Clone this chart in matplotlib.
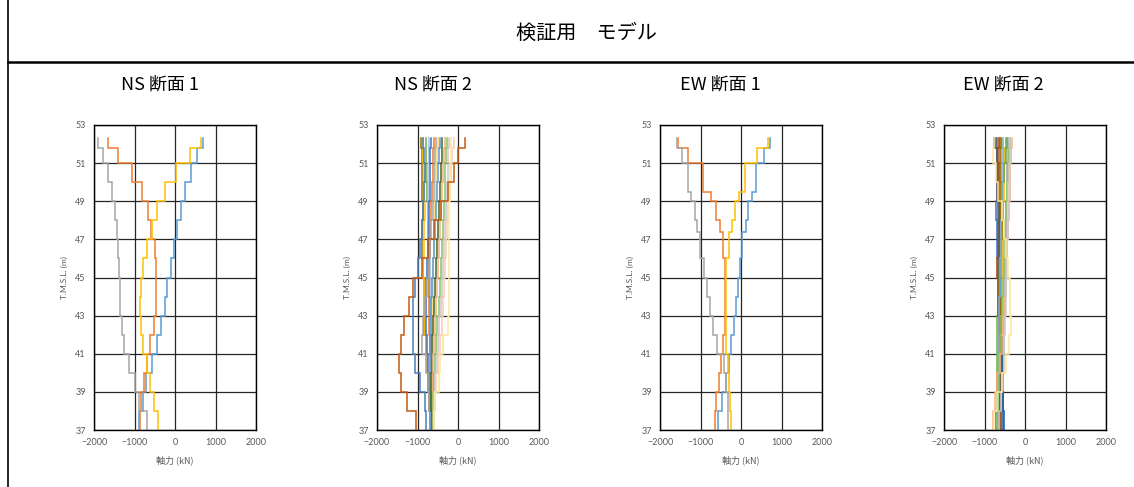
import numpy as np
import matplotlib
matplotlib.use("Agg")
import matplotlib.pyplot as plt

plt.rcParams['font.family'] = ['Noto Sans CJK JP', 'DejaVu Sans']

# ---- data ----
title = "検証用　モデル"
panel_titles = ["NS 断面 1", "NS 断面 2", "EW 断面 1", "EW 断面 2"]
xlabel = "軸力 (kN)"
ylabel = "T.M.S.L. (m)"
xticks = [-2000, -1000, 0, 1000, 2000]
yticks = [37, 39, 41, 43, 45, 47, 49, 51, 53]

# level breaks (top to bottom) of the step profiles
levels = [52.3, 51.8, 51, 50, 49, 48, 47, 46, 45, 44, 43, 42, 41, 40, 39, 38, 37]
levels_ew1 = [52.3, 51.8, 51, 49.5, 49, 48, 47.4, 46, 45, 44, 43, 42, 41, 40, 39, 38, 37]

ns1 = [
    ('#5B9BD5', [686, 537, 397, 248, 140, 41, -25, -107, -190, -248, -347, -455, -579, -719, -802, -901]),
    ('#ED7D31', [-1645, -1405, -1074, -826, -678, -595, -488, -471, -471, -471, -529, -620, -702, -760, -851, -868]),
    ('#A5A5A5', [-1893, -1777, -1653, -1554, -1471, -1430, -1405, -1380, -1364, -1364, -1314, -1264, -1132, -1000, -900, -700]),
    ('#FFC000', [645, 372, 17, -248, -455, -579, -702, -793, -851, -868, -851, -802, -702, -620, -512, -430]),
]

ns2 = [
    ('#997300', [-917, -900, -885, -880, -875, -880, -890, -870, -850, -845, -830, -800, -770, -740, -710, -700]),
    ('#FFC000', [-868, -855, -845, -830, -820, -835, -850, -860, -850, -835, -815, -790, -760, -720, -690, -670]),
    ('#70AD47', [-802, -790, -780, -765, -750, -740, -730, -720, -710, -700, -690, -680, -665, -640, -620, -610]),
    ('#9DC3E6', [-711, -720, -735, -745, -730, -710, -695, -685, -675, -665, -655, -645, -635, -625, -615, -600]),
    ('#4472C4', [-669, -680, -690, -700, -710, -725, -745, -765, -780, -790, -780, -760, -740, -720, -700, -680]),
    ('#ED7D31', [-603, -615, -625, -640, -660, -680, -700, -715, -725, -720, -705, -685, -665, -645, -625, -605]),
    ('#A5A5A5', [-554, -565, -580, -600, -625, -655, -690, -725, -765, -820, -860, -880, -800, -745, -705, -690]),
    ('#FFD966', [-504, -520, -540, -555, -570, -585, -595, -605, -615, -625, -635, -645, -650, -660, -650, -640]),
    ('#5B9BD5', [-455, -470, -490, -510, -535, -560, -590, -615, -640, -655, -670, -680, -690, -680, -670, -660]),
    ('#43682B', [-388, -400, -420, -440, -465, -490, -520, -550, -575, -600, -620, -635, -650, -660, -655, -650]),
    ('#F4B183', [-331, -345, -365, -390, -410, -435, -460, -485, -510, -535, -560, -585, -610, -625, -620, -615]),
    ('#8CC168', [-273, -290, -310, -330, -355, -380, -405, -430, -455, -480, -510, -540, -570, -600, -610, -620]),
    ('#C9C9C9', [-215, -235, -255, -280, -300, -325, -350, -375, -400, -430, -460, -490, -530, -570, -590, -600]),
    ('#F8CBAD', [-107, -150, -185, -215, -245, -270, -295, -320, -345, -370, -400, -440, -490, -540, -580, -590]),
    ('#FFE699', [-165, -175, -190, -200, -210, -220, -225, -230, -230, -220, -250, -360, -440, -470, -560, -600]),
    ('#4A7EBB', [-860, -840, -820, -840, -870, -900, -940, -980, -1060, -1100, -1115, -1100, -1060, -950, -810, -790]),
    ('#C55A11', [180, 0, -100, -250, -420, -600, -750, -900, -1100, -1210, -1330, -1405, -1445, -1405, -1265, -1030]),
]

ew1 = [
    ('#5B9BD5', [708, 560, 379, 272, 173, 115, 25, -33, -74, -115, -173, -239, -305, -379, -461, -568]),
    ('#ED7D31', [-1556, -1309, -938, -733, -609, -527, -444, -403, -387, -387, -403, -444, -486, -543, -609, -642]),
    ('#A5A5A5', [-1572, -1449, -1309, -1226, -1144, -1086, -1021, -922, -840, -774, -691, -593, -420, -380, -330, -310]),
    ('#FFC000', [667, 403, 107, -58, -156, -222, -305, -362, -379, -379, -379, -370, -321, -305, -280, -239]),
]

ew2 = [
    ('#5B9BD5', [-480, -500, -520, -540, -555, -565, -575, -580, -585, -590, -580, -570, -560, -550, -540, -530]),
    ('#ED7D31', [-620, -600, -590, -600, -610, -620, -630, -640, -650, -640, -630, -620, -640, -660, -680, -700]),
    ('#A5A5A5', [-420, -430, -440, -450, -460, -470, -480, -490, -500, -510, -520, -530, -540, -560, -580, -600]),
    ('#FFC000', [-560, -530, -520, -530, -560, -570, -560, -550, -540, -550, -560, -570, -590, -610, -620, -640]),
    ('#4472C4', [-700, -680, -670, -690, -720, -700, -680, -660, -650, -640, -620, -600, -580, -560, -540, -520]),
    ('#70AD47', [-440, -470, -510, -560, -590, -620, -640, -650, -660, -670, -680, -690, -700, -690, -680, -670]),
    ('#255E91', [-760, -700, -680, -660, -650, -640, -630, -620, -610, -600, -590, -580, -570, -560, -550, -540]),
    ('#9E480E', [-650, -660, -640, -630, -620, -640, -660, -680, -670, -660, -650, -640, -630, -620, -610, -600]),
    ('#636363', [-720, -700, -690, -680, -670, -660, -650, -640, -630, -620, -610, -600, -590, -600, -620, -640]),
    ('#997300', [-600, -620, -610, -600, -590, -580, -600, -620, -640, -620, -600, -620, -650, -680, -700, -720]),
    ('#7CAFDD', [-540, -550, -560, -570, -580, -590, -600, -610, -620, -630, -640, -650, -660, -670, -690, -700]),
    ('#8CC168', [-380, -400, -420, -450, -470, -490, -510, -530, -550, -570, -590, -610, -630, -650, -660, -680]),
    ('#F4B183', [-320, -350, -370, -380, -400, -420, -440, -460, -480, -500, -540, -580, -620, -680, -740, -780]),
    ('#C9C9C9', [-360, -380, -400, -410, -420, -430, -440, -450, -460, -470, -490, -510, -530, -560, -600, -640]),
    ('#FFE699', [-760, -800, -720, -660, -580, -520, -470, -420, -380, -360, -340, -400, -460, -560, -680, -770]),
]

panels = [(ns1, levels), (ns2, levels), (ew1, levels_ew1), (ew2, levels)]


def step_path(lv, vals):
    # constant value between consecutive levels, horizontal jump at each level
    y = np.repeat(lv, 2)[1:-1]
    x = np.repeat(vals, 2)
    return x, y


W, H = 1134, 487
fig = plt.figure(figsize=(W / 100, H / 100), dpi=100)

# frame lines of the sheet
fig.add_artist(plt.Line2D([8 / W, 8 / W], [0, 1], color='black', lw=1.2))
fig.add_artist(plt.Line2D([8 / W, 1], [1 - 62 / H, 1 - 62 / H], color='black', lw=1.8))

fig.text(586 / W, 1 - 33 / H, title, ha='center', va='center', fontsize=14.5)

ax_left = [94, 377, 660, 944]
sub_x = [160, 433, 720, 1003]
ax_w, ax_top, ax_bot = 162, 125, 430
tick_font = ['Lato', 'DejaVu Sans']

for i, (series, lv) in enumerate(panels):
    fig.text(sub_x[i] / W, 1 - 85 / H, panel_titles[i], ha='center', va='center', fontsize=13)
    ax = fig.add_axes([ax_left[i] / W, 1 - ax_bot / H, ax_w / W, (ax_bot - ax_top) / H])
    for col, vals in series:
        x, y = step_path(lv, vals)
        ax.plot(x, y, color=col, lw=1.1, solid_joinstyle='miter')
    ax.set_xlim(-2000, 2000)
    ax.set_ylim(37, 53)
    ax.set_xticks(xticks)
    ax.set_yticks(yticks)
    ax.grid(True, color='#262626', lw=0.9)
    ax.set_axisbelow(True)
    ax.tick_params(length=0, labelsize=6.5, labelcolor='#595959', pad=6)
    for lab in ax.get_xticklabels() + ax.get_yticklabels():
        lab.set_family(tick_font)
    for sp in ax.spines.values():
        sp.set_color('black')
        sp.set_linewidth(1.0)
    ax.set_xlabel(xlabel, fontsize=6.5, color='#595959', labelpad=6)
    ax.set_ylabel(ylabel, fontsize=6, color='#595959', labelpad=5, family=tick_font)

fig.savefig('out.png', dpi=100)
